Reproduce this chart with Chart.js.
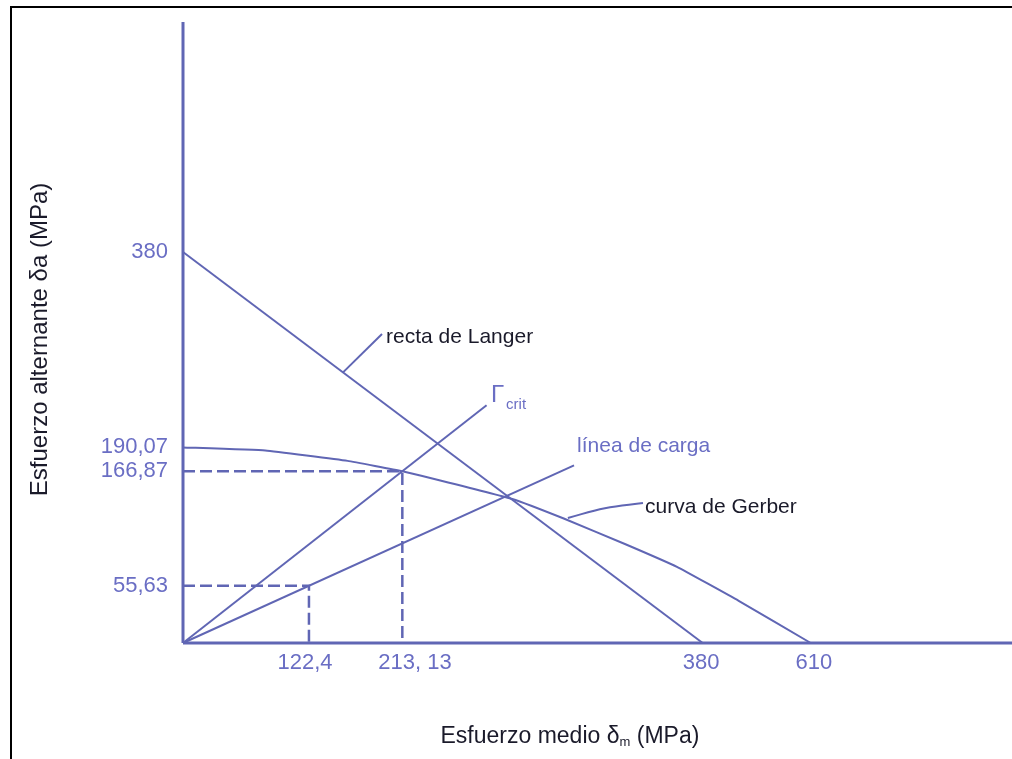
<!DOCTYPE html>
<html>
<head>
<meta charset="utf-8">
<script src="https://cdn.jsdelivr.net/npm/chart.js@4.4.1/dist/chart.umd.min.js"></script>
<style>
    body { margin:0; background:#fff; }
    .marco { position:absolute; left:10px; top:6px; right:0; bottom:0; border-left:2px solid #000; border-top:2px solid #000; }
    #goodman_chart { position:absolute; left:0; top:0; }
</style>
</head>
<body>
<div class="marco"></div>
<canvas id="goodman_chart" width="1012" height="759"></canvas>
<script>
let sy = 380;            // recta de Langer, corte en el eje y
let langerXDibujo = 505; // donde termina la recta dibujada sobre el eje x
let su = 610;            // curva de Gerber, corte en el eje x
let critX = 213.13;
let critY = 166.87;
let cargaX = 122.4;
let cargaY = 55.63;

// curva de Gerber (puntos leidos)
let gerberX = [0, 80, 160, 213.13, 250, 320, 370, 430, 480, 540, 610];
let gerberY = [190.07, 187, 177, 166.87, 158, 140, 121, 96, 74, 41, 0];

// extremos de las rectas desde el origen
let critFin = [295, 231];
let cargaFin = [380, 172.7];

// lineas guia de las etiquetas
let guiaLangerX = [155.5, 193.4];
let guiaLangerY = [263, 300.3];
let guiaGerberX = [374, 410, 447];
let guiaGerberY = [121.5, 131, 136];

// etiquetas de los ejes
let ticksY = [380, 190.07, 166.87, 55.63];
let ticksYTexto = ["380", "190,07", "166,87", "55,63"];
let ticksX = [118.6, 225.5, 503.4, 613];
let ticksXTexto = ["122,4", "213, 13", "380", "610"];

let xMax = 805.6;
let yMax = 603.5;

let azul = '#6066b4';
let azulTexto = '#6a6ec4';
let fuente = '"Liberation Sans", Arial, sans-serif';

function puntos(xs, ys) {
    let arr = new Array();
    for (let i = 0; i < xs.length; i++) {
        arr.push({x: xs[i], y: ys[i]});
    }
    return arr;
}

function linea(data, ancho, extra) {
    let ds = {
        data: data,
        showLine: true,
        borderColor: azul,
        borderWidth: ancho,
        pointRadius: 0,
        fill: false,
        clip: false
    };
    return Object.assign(ds, extra || {});
}

let textos = {
    id: 'textos',
    afterDatasetsDraw(chart) {
        let ctx = chart.ctx;
        let sx = chart.scales.x;
        let sy2 = chart.scales.y;
        let px = v => sx.getPixelForValue(v);
        let py = v => sy2.getPixelForValue(v);
        ctx.save();
        ctx.textBaseline = 'middle';
        ctx.font = '22px ' + fuente;
        ctx.fillStyle = azulTexto;
        ctx.textAlign = 'right';
        for (let i = 0; i < ticksY.length; i++) {
            ctx.fillText(ticksYTexto[i], px(-14.6), py(ticksY[i]));
        }
        ctx.textAlign = 'center';
        for (let i = 0; i < ticksX.length; i++) {
            ctx.fillText(ticksXTexto[i], px(ticksX[i]), py(-19.4));
        }
        ctx.textAlign = 'left';
        ctx.font = '21px ' + fuente;
        ctx.fillText('línea de carga', px(383), py(191.4));
        ctx.font = '24px ' + fuente;
        ctx.fillText('Γ', px(299.3), py(241));
        ctx.font = '15px ' + fuente;
        ctx.fillText('crit', px(314), py(231.3));

        ctx.fillStyle = '#1a1a2a';
        ctx.font = '21px ' + fuente;
        ctx.fillText('recta de Langer', px(197.3), py(297.4));
        ctx.fillText('curva de Gerber', px(449), py(132.2));

        // titulo eje x
        let t1 = 'Esfuerzo medio δ';
        let t2 = 'm';
        let t3 = ' (MPa)';
        ctx.font = '23px ' + fuente;
        let w1 = ctx.measureText(t1).width;
        let w3 = ctx.measureText(t3).width;
        ctx.font = '13px ' + fuente;
        let w2 = ctx.measureText(t2).width;
        let x0 = px(376) - (w1 + w2 + w3) / 2;
        let yt = py(-91.4);
        ctx.font = '23px ' + fuente;
        ctx.fillText(t1, x0, yt);
        ctx.font = '13px ' + fuente;
        ctx.fillText(t2, x0 + w1, yt + 5);
        ctx.font = '23px ' + fuente;
        ctx.fillText(t3, x0 + w1 + w2, yt);

        // titulo eje y
        ctx.translate(px(-139), py(295));
        ctx.rotate(-Math.PI / 2);
        ctx.textAlign = 'center';
        ctx.font = '24px ' + fuente;
        ctx.fillText('Esfuerzo alternante δa (MPa)', 0, 0);
        ctx.restore();
    }
};

let goodman = document.getElementById('goodman_chart');
let goodmanChart = new Chart(goodman, {
    type: 'scatter',
    data: {
        datasets: [
            linea(puntos([0, 0], [0, yMax]), 3),
            linea(puntos([0, xMax], [0, 0]), 3),
            linea(puntos([0, langerXDibujo], [sy, 0]), 2),
            linea(puntos(gerberX, gerberY), 2, {tension: 0.1}),
            linea(puntos([0, critFin[0]], [0, critFin[1]]), 2),
            linea(puntos([0, cargaFin[0]], [0, cargaFin[1]]), 2),
            linea(puntos([0, critX, critX], [critY, critY, 0]), 2.5, {borderDash: [12, 5]}),
            linea(puntos([0, cargaX, cargaX], [cargaY, cargaY, 0]), 2.5, {borderDash: [12, 5]}),
            linea(puntos(guiaLangerX, guiaLangerY), 2),
            linea(puntos(guiaGerberX, guiaGerberY), 2, {tension: 0.4})
        ]
    },
    options: {
        responsive: false,
        animation: false,
        layout: { padding: { left: 183, right: 0, top: 22, bottom: 116 } },
        plugins: { legend: { display: false }, tooltip: { enabled: false } },
        scales: {
            x: { type: 'linear', min: 0, max: xMax, display: false },
            y: { type: 'linear', min: 0, max: yMax, display: false }
        }
    },
    plugins: [textos]
});
</script>
</body>
</html>
